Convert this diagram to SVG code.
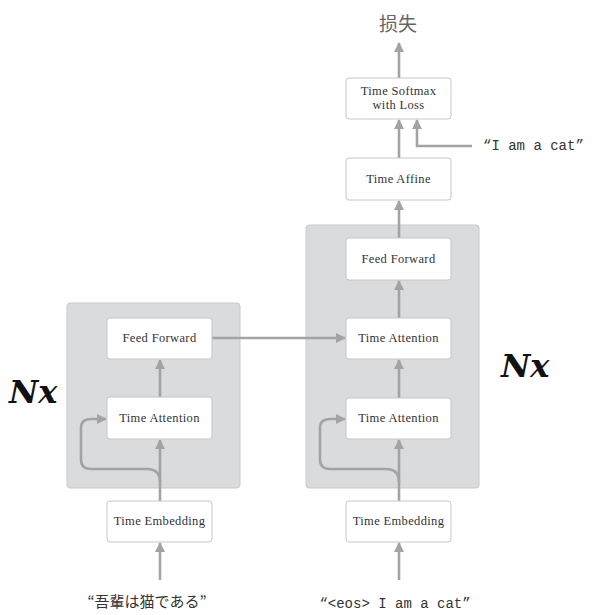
<svg xmlns="http://www.w3.org/2000/svg" width="596" height="615" viewBox="0 0 596 615">
<defs>
<marker id="ah" viewBox="0 0 10 10" refX="9" refY="5" markerWidth="10" markerHeight="10" markerUnits="userSpaceOnUse" orient="auto">
<path d="M0,0 L10,5 L0,10 z" fill="#a3a3a5"/>
</marker>
<style>
.bg{fill:#fff}
.grp{fill:#dadbdd;stroke:#c9c9cb;stroke-width:1}
.box{fill:#fff;stroke:#c6c6c8;stroke-width:1}
.lbl{font-family:"Liberation Serif",serif;font-size:12.5px;letter-spacing:0.35px;fill:#333;text-anchor:middle}
.nx{font-family:"DejaVu Serif",serif;font-size:32px;font-weight:bold;font-style:italic;fill:#111}
.mono{font-family:"Liberation Mono",monospace;font-size:14px;fill:#333}
.jp{font-family:"Noto Sans CJK JP",sans-serif;font-size:15px;fill:#333}
.conn{fill:none;stroke:#a3a3a5;stroke-width:2.6;marker-end:url(#ah)}
</style>
</defs>
<rect class="bg" width="596" height="615"/>
<g id="left-block">
<rect class="grp" x="67" y="303" width="173" height="185" rx="3"/>
</g>
<g id="right-block">
<rect class="grp" x="306" y="225" width="173" height="263" rx="3"/>
</g>
<g id="connectors">
<path class="conn" d="M399,78 L399,43"/>
<path class="conn" d="M399,158 L399,120"/>
<path class="conn" d="M472,146 L417,146 L417,120"/>
<path class="conn" d="M399,238 L399,201"/>
<path class="conn" d="M399,318 L399,281"/>
<path class="conn" d="M399,398 L399,360"/>
<path class="conn" d="M399,501 L399,440"/>
<path class="conn" d="M399,482 Q399,469 386,469 L330,469 Q320,469 320,459 L320,428 Q320,419 330,419 L345,419"/>
<path class="conn" d="M399,580 L399,543"/>
<path class="conn" d="M160,398 L160,360"/>
<path class="conn" d="M160,501 L160,440"/>
<path class="conn" d="M160,482 Q160,469 147,469 L91,469 Q81,469 81,459 L81,428 Q81,419 91,419 L106,419"/>
<path class="conn" d="M160,580 L160,543"/>
<path class="conn" d="M212,338 L345,338"/>
</g>
<g id="loss"><text x="398" y="31" font-family="Noto Sans CJK SC,sans-serif" font-size="19" fill="#666" text-anchor="middle">损失</text></g>
<g id="softmax">
<rect class="box" x="346" y="78" width="105" height="41" rx="3"/>
<text class="lbl" x="398.5" y="95">Time Softmax</text>
<text class="lbl" x="398.5" y="109">with Loss</text>
</g>
<g id="affine">
<rect class="box" x="346" y="158" width="105" height="42" rx="3"/>
<text class="lbl" x="398.5" y="183">Time Affine</text>
</g>
<g id="r-ff">
<rect class="box" x="346" y="238" width="105" height="42" rx="3"/>
<text class="lbl" x="398.5" y="263">Feed Forward</text>
</g>
<g id="r-att2">
<rect class="box" x="346" y="318" width="105" height="41" rx="3"/>
<text class="lbl" x="398.5" y="342">Time Attention</text>
</g>
<g id="r-att1">
<rect class="box" x="346" y="398" width="105" height="41" rx="3"/>
<text class="lbl" x="398.5" y="422">Time Attention</text>
</g>
<g id="r-emb">
<rect class="box" x="346" y="501" width="105" height="41" rx="3"/>
<text class="lbl" x="398.5" y="525">Time Embedding</text>
</g>
<g id="l-ff">
<rect class="box" x="107" y="318" width="105" height="41" rx="3"/>
<text class="lbl" x="159.5" y="342">Feed Forward</text>
</g>
<g id="l-att">
<rect class="box" x="107" y="397" width="105" height="42" rx="3"/>
<text class="lbl" x="159.5" y="422">Time Attention</text>
</g>
<g id="l-emb">
<rect class="box" x="107" y="501" width="105" height="41" rx="3"/>
<text class="lbl" x="159.5" y="525">Time Embedding</text>
</g>
<g id="labels">
<text class="nx" x="9" y="403">Nx</text>
<text class="nx" x="501" y="377">Nx</text>
<text class="mono" x="483" y="150">“I am a cat”</text>
<text class="mono" x="395" y="608" text-anchor="middle">“&lt;eos&gt; I am a cat”</text>
<text class="jp" x="147" y="607" text-anchor="middle">“吾輩は猫である”</text>
</g>
</svg>
